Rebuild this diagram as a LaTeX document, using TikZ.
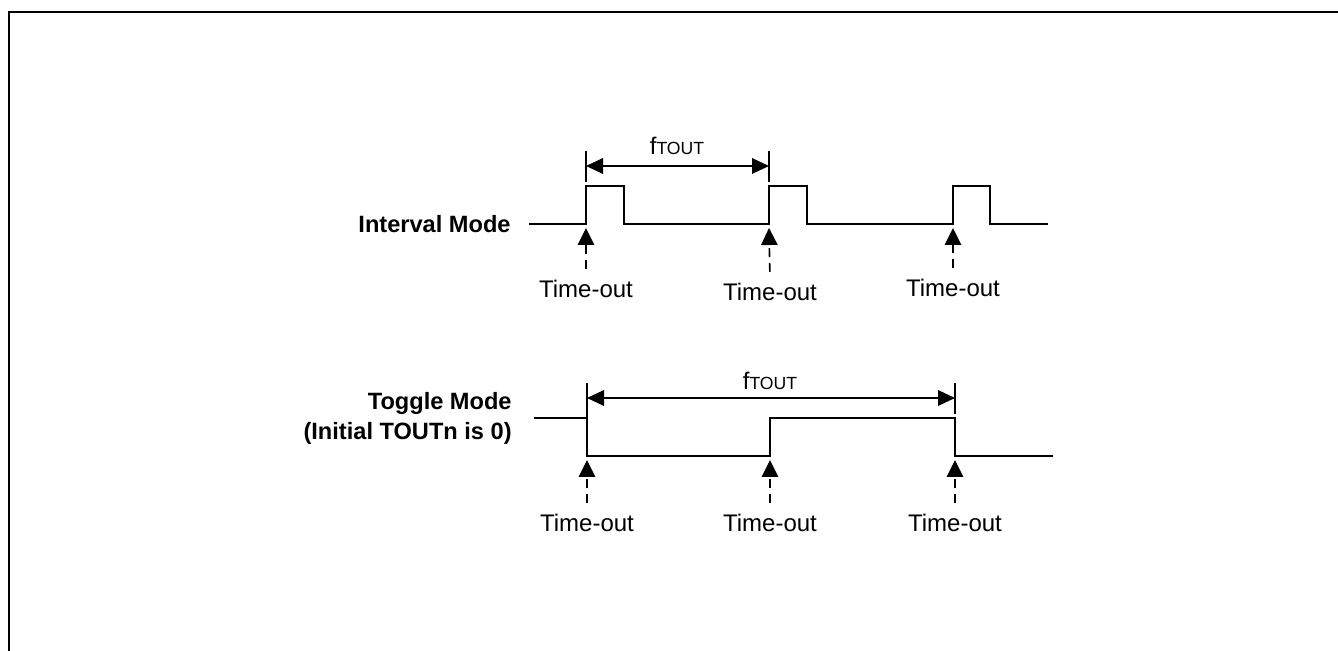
\documentclass[tikz,border=0pt]{standalone}
\usepackage{fontspec}
\setmainfont{Liberation Sans}
\usetikzlibrary{arrows.meta}
\begin{document}
\begin{tikzpicture}[x=0.5pt,y=-0.5pt,
  sig/.style={line width=1pt},
  lbl/.style={font=\fontsize{12}{14}\selectfont, inner sep=1pt},
  modelbl/.style={font=\fontsize{11.8}{15}\selectfont\bfseries, align=right, anchor=east, inner sep=0pt},
  tout/.style={line width=0.8pt, dash pattern=on 4.5pt off 2.8pt, shorten <=4.5pt, -{Triangle[length=8.5pt,width=8.2pt]}},
  dim/.style={line width=0.8pt, {Triangle[length=8.5pt,width=7.8pt]}-{Triangle[length=8.5pt,width=7.8pt]}},
  tick/.style={line width=0.8pt},
  flbl/.style={font=\fontsize{12}{14}\selectfont, inner sep=0pt}
]
\useasboundingbox (0,0) rectangle (1338,651);
% frame
\draw[line width=1pt] (9,651) -- (9,12) -- (1338,12);

% ---------- Interval mode ----------
\node[modelbl] (im) at (511,224) {Interval Mode};
\coordinate (is) at (529,224);
\coordinate (ir1) at (586,224);
\coordinate (if1) at (624,224);
\coordinate (ir2) at (769,224);
\coordinate (if2) at (807,224);
\coordinate (ir3) at (953,224);
\coordinate (if3) at (990,224);
\coordinate (ie) at (1048,224);
\draw[sig] (is) -- (ir1) -- ++(0,-38) -| (if1) -- (ir2) -- ++(0,-38) -| (if2) -- (ir3) -- ++(0,-38) -| (if3) -- (ie);

% dimension
\coordinate (id1) at (586,151);
\coordinate (id2) at (769,151);
\draw[tick] (id1) -- ++(0,31);
\draw[tick] (id2) -- ++(0,31);
\coordinate (ia1) at (586,166);
\coordinate (ia2) at (769,166);
\draw[dim] (ia1) -- (ia2);
\node[flbl] (if) at (677,146) {f{\fontsize{8.8}{10}\selectfont TOUT}};

% time-out labels
\node[lbl] (it1) at (586,289) {Time-out};
\node[lbl] (it2) at (770,292) {Time-out};
\node[lbl] (it3) at (953,288) {Time-out};
\coordinate (ia1t) at (586,228);
\coordinate (ia2t) at (769,228);
\coordinate (ia3t) at (953,228);
\draw[tout] (it1.north) -- (ia1t);
\draw[tout] (it2.north) -- (ia2t);
\draw[tout] (it3.north) -- (ia3t);

% ---------- Toggle mode ----------
\node[modelbl] (tm) at (512,418) {Toggle Mode\\(Initial TOUTn is 0)};
\coordinate (ts) at (534,418);
\coordinate (tf1) at (587,456);
\coordinate (tr1) at (770,456);
\coordinate (tf2) at (955,418);
\coordinate (te) at (1053,456);
\draw[sig] (ts) -| (tf1) -- (tr1) |- (tf2) |- (te);

% dimension
\coordinate (td1) at (587,383);
\coordinate (td2) at (955,383);
\draw[tick] (td1) -- ++(0,35);
\draw[tick] (td2) -- ++(0,31);
\coordinate (ta1) at (587,398);
\coordinate (ta2) at (955,398);
\draw[dim] (ta1) -- (ta2);
\node[flbl] (tf) at (770,381) {f{\fontsize{8.8}{10}\selectfont TOUT}};

% time-out labels
\node[lbl] (tt1) at (587,523) {Time-out};
\node[lbl] (tt2) at (770,523) {Time-out};
\node[lbl] (tt3) at (955,523) {Time-out};
\coordinate (ta1t) at (587,460);
\coordinate (ta2t) at (770,460);
\coordinate (ta3t) at (955,460);
\draw[tout] (tt1.north) -- (ta1t);
\draw[tout] (tt2.north) -- (ta2t);
\draw[tout] (tt3.north) -- (ta3t);
\end{tikzpicture}
\end{document}
